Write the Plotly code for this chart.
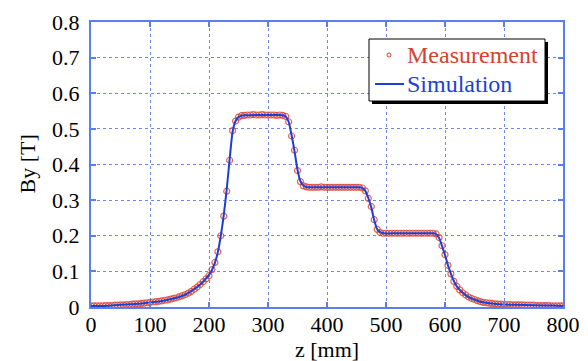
import plotly.graph_objects as go

# Measurement: z [mm] and By [T]
meas_z = list(range(0, 805, 5))
meas_by = [
    0.003, 0.003, 0.003, 0.003, 0.003, 0.004, 0.004, 0.004, 0.005, 0.005,   # 0-45
    0.006, 0.006, 0.007, 0.007, 0.008, 0.009, 0.009, 0.010, 0.011, 0.012,   # 50-95
    0.013, 0.014, 0.015, 0.016, 0.017, 0.019, 0.020, 0.022, 0.024, 0.026,   # 100-145
    0.029, 0.032, 0.035, 0.039, 0.044, 0.050, 0.056, 0.063, 0.071, 0.079,   # 150-195
    0.088, 0.105, 0.125, 0.155, 0.200, 0.255, 0.325, 0.412, 0.495, 0.522,   # 200-245
    0.533, 0.537, 0.538, 0.539, 0.539, 0.540, 0.539, 0.539, 0.540, 0.539,   # 250-295
    0.539, 0.539, 0.539, 0.538, 0.539, 0.538, 0.535, 0.520, 0.480, 0.440,   # 300-345
    0.383, 0.352, 0.340, 0.337, 0.336, 0.336, 0.336, 0.336, 0.337, 0.336,   # 350-395
    0.336, 0.336, 0.336, 0.336, 0.336, 0.336, 0.336, 0.336, 0.336, 0.336,   # 400-445
    0.336, 0.336, 0.334, 0.326, 0.305, 0.282, 0.245, 0.218, 0.209, 0.207,   # 450-495
    0.207, 0.207, 0.207, 0.207, 0.207, 0.207, 0.207, 0.207, 0.207, 0.207,   # 500-545
    0.207, 0.207, 0.207, 0.207, 0.207, 0.207, 0.207, 0.205, 0.195, 0.172,   # 550-595
    0.147, 0.117, 0.093, 0.072, 0.058, 0.048, 0.040, 0.034, 0.028, 0.024,   # 600-645
    0.021, 0.018, 0.015, 0.013, 0.012, 0.011, 0.010, 0.009, 0.008, 0.008,   # 650-695
    0.007, 0.007, 0.007, 0.006, 0.006, 0.006, 0.006, 0.005, 0.005, 0.005,   # 700-745
    0.005, 0.004, 0.004, 0.004, 0.004, 0.004, 0.003, 0.003, 0.003, 0.003,   # 750-795
    0.003,                                                                   # 800
]

# Simulation: z [mm] and By [T]
sim_z = [0, 20, 40, 60, 80, 100, 120, 140, 160, 180, 190, 200, 205, 210, 215,
         220, 225, 230, 235, 240, 245, 250, 255, 260, 280, 300, 320, 325, 330,
         335, 340, 345, 350, 355, 360, 365, 370, 400, 430, 455, 460, 465, 470,
         475, 480, 485, 490, 495, 520, 550, 580, 585, 590, 595, 600, 605, 610,
         615, 620, 630, 640, 650, 660, 680, 700, 720, 750, 780, 800]
sim_by = [0.003, 0.003, 0.005, 0.007, 0.009, 0.013, 0.017, 0.024, 0.035, 0.056,
          0.071, 0.090, 0.104, 0.124, 0.154, 0.200, 0.258, 0.330, 0.415, 0.492,
          0.522, 0.533, 0.537, 0.538, 0.539, 0.539, 0.539, 0.538, 0.535, 0.520,
          0.482, 0.437, 0.385, 0.353, 0.341, 0.337, 0.336, 0.336, 0.336, 0.336,
          0.334, 0.326, 0.306, 0.280, 0.244, 0.218, 0.210, 0.207, 0.207, 0.207,
          0.207, 0.205, 0.194, 0.171, 0.146, 0.117, 0.093, 0.073, 0.058, 0.040,
          0.028, 0.021, 0.015, 0.010, 0.007, 0.006, 0.005, 0.004, 0.003]

x_ticks = [0, 100, 200, 300, 400, 500, 600, 700, 800]
y_ticks = [0, 0.1, 0.2, 0.3, 0.4, 0.5, 0.6, 0.7, 0.8]
y_tick_text = ["0", "0.1", "0.2", "0.3", "0.4", "0.5", "0.6", "0.7", "0.8"]
legend_names = ["Measurement", "Simulation"]

FONT = "Liberation Serif"
AXIS_BLUE = "#5a7ef0"
GRID_BLUE = "#6a88ee"
RED = "#d8412e"
BLUE = "#1c3fd8"

# page body has an 8px default margin; compensate so the plot lands where wanted
OFF = 8
W, H = 588 - OFF, 361 - OFF
PL, PR, PT, PB = 91, 563, 22, 307          # plot area in screen pixels
L, T = PL - OFF, PT - OFF
R = W - (PR - OFF)
B = H - (PB - OFF)
pw, ph = PR - PL, PB - PT

def px2paper_x(px):
    return (px - PL) / pw

def px2paper_y(py):
    return (PB - py) / ph

fig = go.Figure()
fig.add_trace(go.Scatter(
    x=meas_z, y=meas_by, mode="markers", name=legend_names[0],
    marker=dict(symbol="circle-open", size=6, color="rgba(216,65,46,0.8)",
                line=dict(width=1.2, color="rgba(216,65,46,0.8)")),
))
fig.add_trace(go.Scatter(
    x=sim_z, y=sim_by, mode="lines", name=legend_names[1],
    line=dict(color=BLUE, width=2, shape="spline", smoothing=0.6),
))

# hand-drawn legend box (with drop shadow)
shapes = [
    dict(type="rect", xref="paper", yref="paper",
         x0=px2paper_x(372), x1=px2paper_x(548), y0=px2paper_y(104), y1=px2paper_y(42),
         fillcolor="black", line=dict(width=0), layer="above"),
    dict(type="rect", xref="paper", yref="paper",
         x0=px2paper_x(369), x1=px2paper_x(545), y0=px2paper_y(101), y1=px2paper_y(39),
         fillcolor="white", line=dict(width=1, color="black"), layer="above"),
    dict(type="circle", xref="paper", yref="paper",
         x0=px2paper_x(387), x1=px2paper_x(391), y0=px2paper_y(57), y1=px2paper_y(53),
         fillcolor="rgba(0,0,0,0)", line=dict(width=1, color=RED), layer="above"),
    dict(type="line", xref="paper", yref="paper",
         x0=px2paper_x(375), x1=px2paper_x(404), y0=px2paper_y(84), y1=px2paper_y(84),
         line=dict(width=2, color=BLUE), layer="above"),
]

annotations = [
    dict(text=legend_names[0], xref="paper", yref="paper", x=px2paper_x(405), y=px2paper_y(55),
         xanchor="left", yanchor="middle", showarrow=False,
         font=dict(family=FONT, size=24, color=RED)),
    dict(text=legend_names[1], xref="paper", yref="paper", x=px2paper_x(405), y=px2paper_y(84),
         xanchor="left", yanchor="middle", showarrow=False,
         font=dict(family=FONT, size=24, color=BLUE)),
    dict(text="z [mm]", xref="paper", yref="paper", x=0.5, y=px2paper_y(349),
         xanchor="center", yanchor="middle", showarrow=False,
         font=dict(family=FONT, size=22, color="black")),
    dict(text="By [T]", xref="paper", yref="paper", x=px2paper_x(27), y=0.5,
         xanchor="center", yanchor="middle", showarrow=False, textangle=-90,
         font=dict(family=FONT, size=22, color="black")),
]

axis_common = dict(
    showline=True, linecolor=AXIS_BLUE, linewidth=2, mirror="all",
    ticks="inside", ticklen=5, tickwidth=1.5, tickcolor=AXIS_BLUE,
    showgrid=True, gridcolor=GRID_BLUE, griddash="dot", gridwidth=1,
    zeroline=False, automargin=False,
    tickfont=dict(family=FONT, size=22, color="black"),
)

fig.update_layout(
    width=W, height=H,
    margin=dict(l=L, r=R, t=T, b=B, pad=0),
    paper_bgcolor="white", plot_bgcolor="white",
    font=dict(family=FONT, size=22, color="black"),
    showlegend=False,
    shapes=shapes,
    annotations=annotations,
    xaxis=dict(range=[0, 800], tickvals=x_ticks, ticklabelstandoff=-3, **axis_common),
    yaxis=dict(range=[0, 0.8], tickvals=y_ticks, ticktext=y_tick_text,
               ticklabelstandoff=5, **axis_common),
)

fig.write_html("out.html")
